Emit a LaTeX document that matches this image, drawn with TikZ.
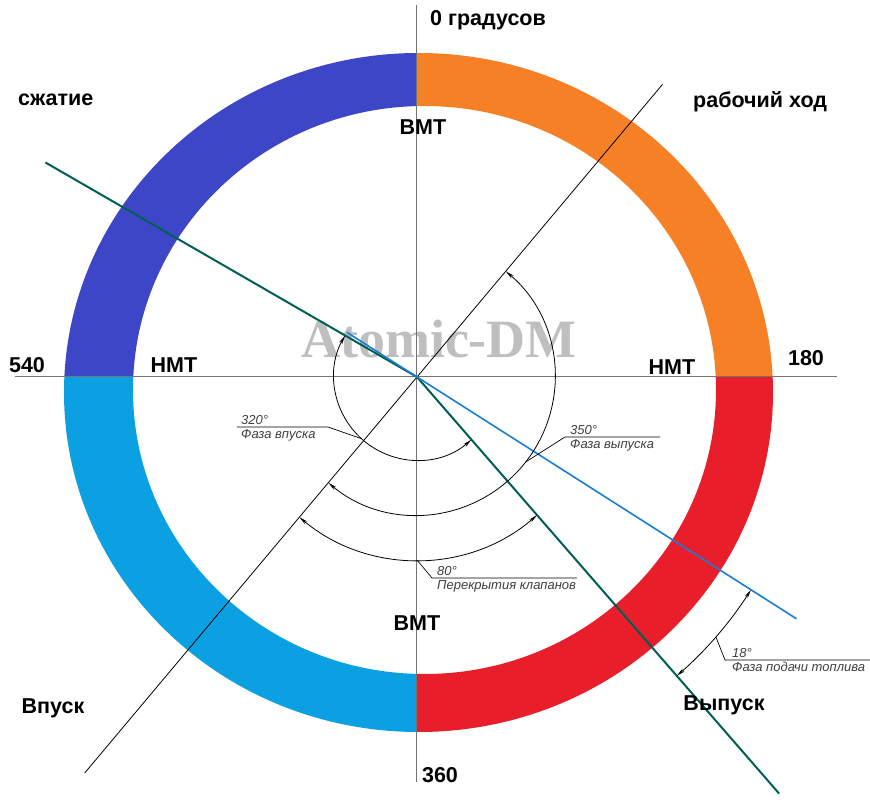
\documentclass[tikz,border=0pt]{standalone}
\usepackage{fontspec}
\setmainfont{Liberation Sans}
\newfontfamily\wmfont{Liberation Serif}
\usetikzlibrary{arrows.meta}

\definecolor{szhatie}{RGB}{62,70,200}
\definecolor{rabochiy}{RGB}{245,128,38}
\definecolor{vypusk}{RGB}{232,30,42}
\definecolor{vpusk}{RGB}{10,160,225}
\definecolor{tealline}{RGB}{0,95,85}
\definecolor{blueline}{RGB}{25,125,215}

\tikzstyle{axis}=[draw=black!55,line width=1pt]
\tikzstyle{bigtext}=[font=\fontsize{21.5}{24}\selectfont\bfseries,inner sep=0pt,anchor=base]
\tikzstyle{dimtext}=[font=\fontsize{13}{15}\selectfont\itshape,text=black!75,inner sep=2pt]
\tikzstyle{dimarc}=[draw=black,line width=0.8pt,{Stealth[length=9pt,width=3.5pt]}-{Stealth[length=9pt,width=3.5pt]}]
\tikzstyle{leader}=[draw=black,line width=0.7pt]

\begin{document}
\begin{tikzpicture}[x=1pt,y=1pt]
\useasboundingbox (-417,-428) rectangle (453,377);
\fill[white] (-417,-428) rectangle (453,377);
% four strokes of the cycle
\foreach \col/\xa/\ya in {szhatie/-1/1, rabochiy/1/1, vypusk/1/-1, vpusk/-1/-1} {
  \begin{scope}
    \clip (0,0) rectangle (\xa*400,\ya*400);
    \fill[\col,even odd rule] (1.5,-15.5) ellipse [x radius=354.5, y radius=339.5]
                              (7.5,-13) ellipse [x radius=291.5, y radius=284];
  \end{scope}
}
\node[font=\wmfont\bfseries\fontsize{54}{60}\selectfont,text=black!25,anchor=base,inner sep=0pt] (wm) at (22,19) {Atomic-DM};

\coordinate (O) at (0,0);
\coordinate (vtop) at (0,372);
\coordinate (vbot) at (0,-405);
\coordinate (hl) at (-402,0);
\coordinate (hr) at (420,0);
\coordinate (k1) at (50:382);
\coordinate (k2) at (230:517);
\coordinate (t1) at (150:429);
\coordinate (t2) at (-49:552);
\coordinate (b1) at (147.5:83);
\coordinate (b2) at (-32.5:450);

\draw[axis] (vtop) -- (vbot);
\draw[axis] (hl) -- (hr);
\draw[black,line width=0.8pt] (k2) -- (k1);
\draw[tealline,line width=2pt] (t1) -- (O) -- (t2);
\draw[blueline,line width=1.6pt] (b1) -- (b2);

% angle dimensions
\draw[dimarc] (-49:83) arc[start angle=-49, end angle=-210, radius=83];
\draw[dimarc] (50:138) arc[start angle=50, end angle=-130, radius=138];
\draw[dimarc] (-49:183) arc[start angle=-49, end angle=-130, radius=183];
\draw[dimarc] (-32.5:396) arc[start angle=-32.5, end angle=-49, radius=396];

\draw[leader] (228:83) -- (-89,-50) -- (-180,-50);
\draw[leader] (-38:138) -- (148,-60) -- (243,-60);
\draw[leader] (-90:183) -- (15,-201) -- (160,-201);
\draw[leader] (-41:396) -- (308,-283) -- (453,-283);

\node[dimtext,anchor=south west] (a320) at (-178,-50) {320°};
\node[dimtext,anchor=north west] (f320) at (-178,-50) {Фаза впуска};
\node[dimtext,anchor=south west] (a350) at (151,-60) {350°};
\node[dimtext,anchor=north west] (f350) at (151,-60) {Фаза выпуска};
\node[dimtext,anchor=south west] (a80) at (18,-201) {80°};
\node[dimtext,anchor=north west] (f80) at (18,-201) {Перекрытия клапанов};
\node[dimtext,anchor=south west] (a18) at (313,-283) {18°};
\node[dimtext,anchor=north west] (f18) at (313,-283) {Фаза подачи топлива};

% labels
\node[bigtext,anchor=base west] (deg0) at (13,351) {0 градусов};
\node[bigtext,anchor=base west] (szh) at (-399,271) {сжатие};
\node[bigtext,anchor=base west] (rab) at (276,269) {рабочий ход};
\node[bigtext] (vmt1) at (6,242) {ВМТ};
\node[bigtext] (nmt1) at (-243,4) {НМТ};
\node[bigtext] (d540) at (-390,4) {540};
\node[bigtext] (nmt2) at (255,2) {НМТ};
\node[bigtext] (d180) at (389,11) {180};
\node[bigtext] (vmt2) at (0,-253) {ВМТ};
\node[bigtext] (d360) at (23,-405) {360};
\node[bigtext] (vpu) at (-364,-336) {Впуск};
\node[bigtext] (vyp) at (307,-333) {Выпуск};
\end{tikzpicture}
\end{document}
